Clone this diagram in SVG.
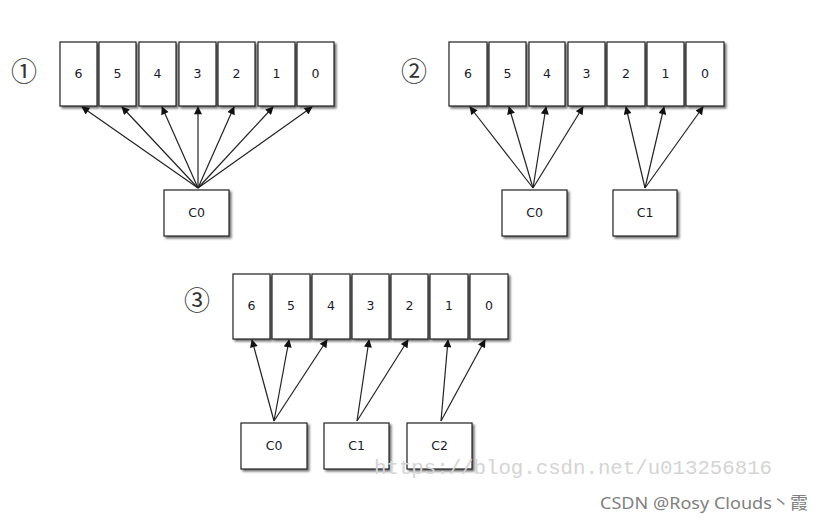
<svg xmlns="http://www.w3.org/2000/svg" width="823" height="523" viewBox="0 0 823 523">
<defs>
<filter id="sh" x="-20%" y="-20%" width="150%" height="150%">
<feGaussianBlur in="SourceAlpha" stdDeviation="1.2"/>
<feOffset dx="2" dy="2" result="b"/>
<feComponentTransfer><feFuncA type="linear" slope="0.55"/></feComponentTransfer>
<feMerge><feMergeNode/><feMergeNode in="SourceGraphic"/></feMerge>
</filter>
<marker id="ah" viewBox="0 0 10 10" refX="9" refY="5" markerWidth="10" markerHeight="8" markerUnits="userSpaceOnUse" orient="auto">
<path d="M0,0 L10,5 L0,10 Z" fill="#111"/>
</marker>
</defs>
<style>
.b{fill:#fff;stroke:#222;stroke-width:1.2;filter:url(#sh)}
.t{font-family:"DejaVu Sans",Verdana,sans-serif;font-size:12.5px;fill:#1a1a2a;text-anchor:middle}
.c{font-family:"Noto Sans CJK JP","DejaVu Sans",serif;font-size:26px;fill:#333;text-anchor:middle}
.a{stroke:#222;stroke-width:1.2;fill:none;marker-end:url(#ah)}
</style>
<rect width="823" height="523" fill="#fff"/>

<text class="c" x="24" y="81">①</text>
<text class="c" x="414" y="81">②</text>
<text class="c" x="197" y="310">③</text>

<!-- Diagram 1 -->
<g id="d1-6"><rect class="b" x="60" y="42" width="37" height="64"/><text class="t" x="78.5" y="78">6</text></g>
<g id="d1-5"><rect class="b" x="99" y="42" width="37" height="64"/><text class="t" x="117.5" y="78">5</text></g>
<g id="d1-4"><rect class="b" x="139" y="42" width="37" height="64"/><text class="t" x="157.5" y="78">4</text></g>
<g id="d1-3"><rect class="b" x="179" y="42" width="37" height="64"/><text class="t" x="197.5" y="78">3</text></g>
<g id="d1-2"><rect class="b" x="218" y="42" width="37" height="64"/><text class="t" x="236.5" y="78">2</text></g>
<g id="d1-1"><rect class="b" x="258" y="42" width="37" height="64"/><text class="t" x="276.5" y="78">1</text></g>
<g id="d1-0"><rect class="b" x="297" y="42" width="37" height="64"/><text class="t" x="315.5" y="78">0</text></g>
<g id="d1-C0"><rect class="b" x="164" y="190" width="65" height="46"/><text class="t" x="196.5" y="217">C0</text></g>

<!-- Diagram 2 -->
<g id="d2-6"><rect class="b" x="449" y="42" width="38" height="64"/><text class="t" x="468" y="78">6</text></g>
<g id="d2-5"><rect class="b" x="489" y="42" width="37" height="64"/><text class="t" x="507.5" y="78">5</text></g>
<g id="d2-4"><rect class="b" x="529" y="42" width="36" height="64"/><text class="t" x="547" y="78">4</text></g>
<g id="d2-3"><rect class="b" x="568" y="42" width="37" height="64"/><text class="t" x="586.5" y="78">3</text></g>
<g id="d2-2"><rect class="b" x="607" y="42" width="38" height="64"/><text class="t" x="626" y="78">2</text></g>
<g id="d2-1"><rect class="b" x="647" y="42" width="37" height="64"/><text class="t" x="665.5" y="78">1</text></g>
<g id="d2-0"><rect class="b" x="686" y="42" width="38" height="64"/><text class="t" x="705" y="78">0</text></g>
<g id="d2-C0"><rect class="b" x="502" y="190" width="65" height="46"/><text class="t" x="534.5" y="217">C0</text></g>
<g id="d2-C1"><rect class="b" x="613" y="190" width="64" height="46"/><text class="t" x="645" y="217">C1</text></g>

<!-- Diagram 3 -->
<g id="d3-6"><rect class="b" x="233" y="274" width="37" height="65"/><text class="t" x="251.5" y="310">6</text></g>
<g id="d3-5"><rect class="b" x="272" y="274" width="38" height="65"/><text class="t" x="291" y="310">5</text></g>
<g id="d3-4"><rect class="b" x="312" y="274" width="38" height="65"/><text class="t" x="331" y="310">4</text></g>
<g id="d3-3"><rect class="b" x="352" y="274" width="37" height="65"/><text class="t" x="370.5" y="310">3</text></g>
<g id="d3-2"><rect class="b" x="391" y="274" width="37" height="65"/><text class="t" x="409.5" y="310">2</text></g>
<g id="d3-1"><rect class="b" x="430" y="274" width="38" height="65"/><text class="t" x="449" y="310">1</text></g>
<g id="d3-0"><rect class="b" x="470" y="274" width="38" height="65"/><text class="t" x="489" y="310">0</text></g>
<g id="d3-C0"><rect class="b" x="241" y="423" width="66" height="46"/><text class="t" x="274" y="450">C0</text></g>
<g id="d3-C1"><rect class="b" x="324" y="423" width="65" height="46"/><text class="t" x="356.5" y="450">C1</text></g>
<g id="d3-C2"><rect class="b" x="407" y="423" width="65" height="46"/><text class="t" x="439.5" y="450">C2</text></g>

<g id="connectors">
<line class="a" x1="198" y1="188" x2="82" y2="107"/>
<line class="a" x1="198" y1="188" x2="122" y2="107"/>
<line class="a" x1="198" y1="188" x2="162" y2="107"/>
<line class="a" x1="198" y1="188" x2="198" y2="107"/>
<line class="a" x1="198" y1="188" x2="234" y2="107"/>
<line class="a" x1="198" y1="188" x2="273" y2="107"/>
<line class="a" x1="198" y1="188" x2="312" y2="107"/>

<line class="a" x1="533" y1="188" x2="470" y2="107"/>
<line class="a" x1="533" y1="188" x2="509" y2="107"/>
<line class="a" x1="533" y1="188" x2="546" y2="107"/>
<line class="a" x1="533" y1="188" x2="583" y2="107"/>
<line class="a" x1="645" y1="188" x2="626" y2="107"/>
<line class="a" x1="645" y1="188" x2="664" y2="107"/>
<line class="a" x1="645" y1="188" x2="703" y2="107"/>

<line class="a" x1="274" y1="421" x2="252" y2="340"/>
<line class="a" x1="274" y1="421" x2="289" y2="340"/>
<line class="a" x1="274" y1="421" x2="327" y2="340"/>
<line class="a" x1="357" y1="421" x2="369" y2="340"/>
<line class="a" x1="357" y1="421" x2="408" y2="340"/>
<line class="a" x1="441" y1="421" x2="448" y2="340"/>
<line class="a" x1="441" y1="421" x2="485" y2="340"/>
</g>

<text x="374" y="474" font-family="'Liberation Mono',monospace" font-size="21" fill="#d4d4d4" textLength="398" lengthAdjust="spacingAndGlyphs">https://blog.csdn.net/u013256816</text>
<text x="600" y="509" font-family="'Noto Sans','Noto Sans CJK SC',sans-serif" font-size="17" fill="#808080" textLength="208" lengthAdjust="spacingAndGlyphs">CSDN @Rosy Clouds丶霞</text>
</svg>
